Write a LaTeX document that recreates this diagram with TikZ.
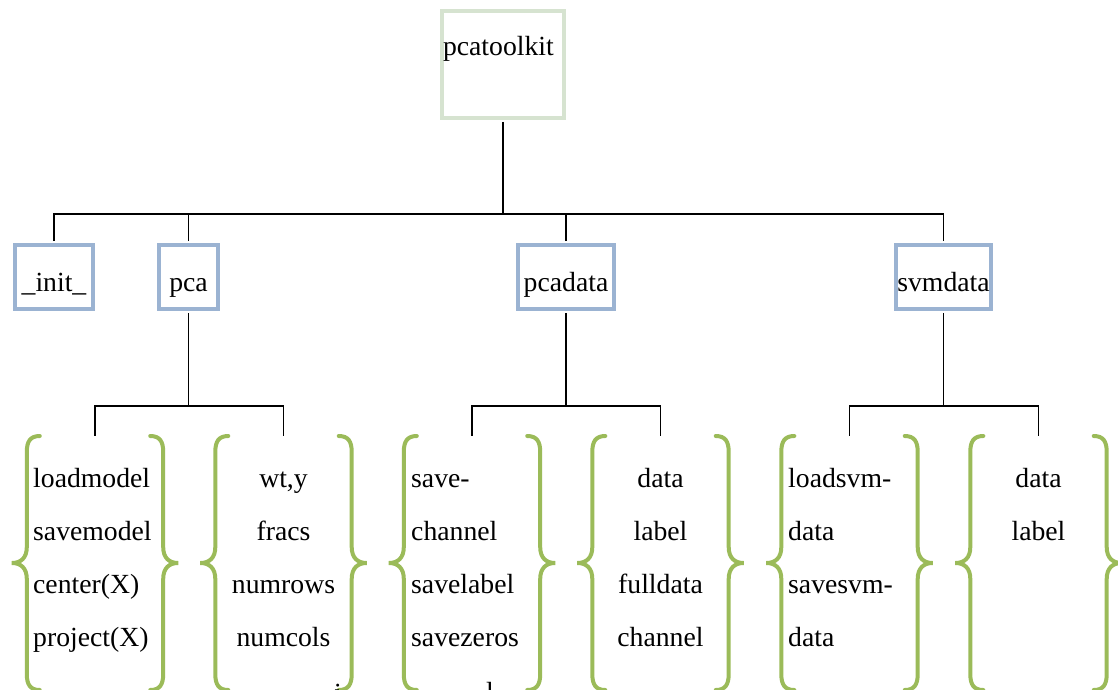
\documentclass[tikz,border=0pt]{standalone}
\usepackage{fontspec}
\setmainfont{Liberation Serif}
\usetikzlibrary{calc}
\definecolor{rootline}{RGB}{214,227,208}
\definecolor{modline}{RGB}{155,179,210}
\definecolor{braceline}{RGB}{155,187,89}
\tikzset{
  every node/.style={font=\fontsize{27.7}{33}\selectfont, inner sep=0pt},
  rootbox/.style={draw=rootline, line width=4pt, minimum width=122pt,
    minimum height=107pt, text width=120pt, align=left, inner xsep=1pt,
    text height=2pt, text depth=19pt},
  modbox/.style={draw=modline, line width=4pt, minimum height=64pt,
    text height=30pt, text depth=2pt},
  group/.style={minimum width=136pt, minimum height=254pt},
  item/.style={anchor=base},
  itemleft/.style={anchor=base west},
  link/.style={line width=1.8pt, black},
  brace/.style={draw=braceline, line width=4pt, line cap=round},
  bracepath/.pic={
    \draw[brace] (13,-127) .. controls (3,-127) and (0,-121) .. (0,-111)
      -- (0,-16) .. controls (0,-5) and (-6,0) .. (-15,0)
      .. controls (-6,0) and (0,5) .. (0,16)
      -- (0,111) .. controls (0,121) and (3,127) .. (13,127);
  }
}
\begin{document}
\begin{tikzpicture}[x=1pt,y=-1pt]
\useasboundingbox (0,0) rectangle (1118,690);
\clip (0,0) rectangle (1118,690);

% package and modules
\node[rootbox] (root) at (503,64.5) {pcatoolkit};
\node[modbox, minimum width=78pt] (init) at (54,277) {\_init\_};
\node[modbox, minimum width=59pt] (pca) at (188.5,277) {pca};
\node[modbox, minimum width=96pt] (pcadata) at (566,277) {pcadata};
\node[modbox, minimum width=95pt] (svmdata) at (943.5,277) {svmdata};

% member groups
\node[group] (g1a) at (95,563) {};
\node[group] (g1b) at (283.5,563) {};
\node[group] (g2a) at (472,563) {};
\node[group] (g2b) at (660.5,563) {};
\node[group] (g3a) at (849.5,563) {};
\node[group] (g3b) at (1038.5,563) {};

% tree connectors
\coordinate (j0) at (503,214);
\draw[link, shorten <=2pt] (root.south) -- (j0);
\foreach \m in {init,pca,pcadata,svmdata}
  \draw[link, shorten <=2pt] (\m.north) |- (j0);

\coordinate (j1) at (188.5,406);
\coordinate (j2) at (566,406);
\coordinate (j3) at (943.5,406);
\draw[link, shorten <=2pt] (pca.south) -- (j1);
\draw[link, shorten <=2pt] (pcadata.south) -- (j2);
\draw[link, shorten <=2pt] (svmdata.south) -- (j3);
\foreach \g in {g1a,g1b} \draw[link] (\g.north) |- (j1);
\foreach \g in {g2a,g2b} \draw[link] (\g.north) |- (j2);
\foreach \g in {g3a,g3b} \draw[link] (\g.north) |- (j3);

% braces around each group
\foreach \g in {g1a,g1b,g2a,g2b,g3a,g3b} {
  \pic[shift={(\g.west)}] {bracepath};
  \pic[shift={(\g.east)}, xscale=-1] {bracepath};
}

% group members
\foreach \t [count=\i] in {loadmodel,savemodel,center(X),project(X)}
  \node[itemleft] (g1a-\i) at (33,{487+53*(\i-1)}) {\t};
\foreach \t [count=\i] in {{wt,y},fracs,numrows,numcols}
  \node[item] (g1b-\i) at (283.5,{487+53*(\i-1)}) {\t};
\foreach \t [count=\i] in {save-,channel,savelabel,savezeros}
  \node[itemleft] (g2a-\i) at (411,{487+53*(\i-1)}) {\t};
\foreach \t [count=\i] in {data,label,fulldata,channel}
  \node[item] (g2b-\i) at (660.5,{487+53*(\i-1)}) {\t};
\foreach \t [count=\i] in {loadsvm-,data,savesvm-,data}
  \node[itemleft] (g3a-\i) at (788,{487+53*(\i-1)}) {\t};
\foreach \t [count=\i] in {data,label}
  \node[item] (g3b-\i) at (1038.5,{487+53*(\i-1)}) {\t};

% tops of the next lines, cut by the lower edge
\node[item] (g1b-5) at (338,702) {i};
\node[item] (g2a-5) at (490,701) {l};
\end{tikzpicture}
\end{document}
